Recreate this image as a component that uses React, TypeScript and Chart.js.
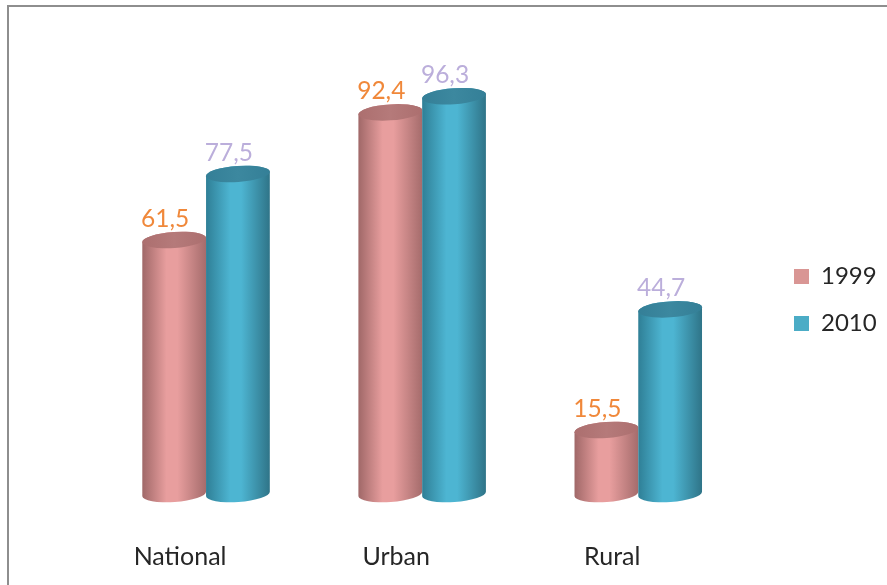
import React, { useEffect, useRef } from "react";
import { Chart, registerables } from "chart.js";

Chart.register(...registerables);

const categories = ["National", "Urban", "Rural"];
const series1999 = [61.5, 92.4, 15.5];
const series2010 = [77.5, 96.3, 44.7];
const seriesNames = ["1999", "2010"];
const labelColors = ["#F0883A", "#BBAEDB"];
const legendColors = ["#D99694", "#4BACC6"];
const FONT = "Lato, Carlito, 'Open Sans', sans-serif";

const cylinderStyles = [
  { edgeL: "#a06868", mid: "#E89E9E", edgeR: "#a56c6c", top: "#AC6F6F", topLight: "#B57A7A" },
  { edgeL: "#2f7f96", mid: "#4DB5D2", edgeR: "#2f7488", top: "#347F97", topLight: "#3C889F" },
];

const TILT = -0.07;
const RY = 8;

const cylinderPlugin = {
  id: "cylinder",
  beforeDraw(chart: any) {
    const { ctx } = chart;
    ctx.save();
    ctx.fillStyle = "#ffffff";
    ctx.fillRect(0, 0, chart.width, chart.height);
    ctx.strokeStyle = "#8E8E8E";
    ctx.lineWidth = 2;
    ctx.beginPath();
    ctx.moveTo(8, chart.height);
    ctx.lineTo(8, 6);
    ctx.lineTo(chart.width, 6);
    ctx.stroke();
    ctx.restore();
  },
  afterLayout(chart: any) {
    const l = chart.legend;
    if (l) {
      const w = l.right - l.left;
      l.left = 771;
      l.right = 771 + w;
      l.top -= 33;
      l.bottom -= 33;
    }
  },
  beforeDatasetsDraw(chart: any) {
    const { ctx } = chart;
    ctx.save();
    chart.data.datasets.forEach((_ds: any, idx: number) => {
      const st = cylinderStyles[idx];
      chart.getDatasetMeta(idx).data.forEach((bar: any) => {
        const { x, y, base, width } = bar.getProps(["x", "y", "base", "width"], true);
        const x0 = x - width / 2;
        const x1 = x + width / 2;
        const rx = width / 2 / Math.cos(TILT);
        const g = ctx.createLinearGradient(x0, 0, x1, 0);
        g.addColorStop(0, st.edgeL);
        g.addColorStop(0.38, st.mid);
        g.addColorStop(0.55, st.mid);
        g.addColorStop(1, st.edgeR);
        ctx.fillStyle = g;
        ctx.beginPath();
        ctx.ellipse(x, base, rx, RY, TILT, 0, Math.PI);
        ctx.ellipse(x, y, rx, RY, TILT, Math.PI, Math.PI * 2);
        ctx.closePath();
        ctx.fill();
        const t = ctx.createLinearGradient(x0, 0, x1, 0);
        t.addColorStop(0, st.top);
        t.addColorStop(0.5, st.topLight);
        t.addColorStop(1, st.top);
        ctx.fillStyle = t;
        ctx.beginPath();
        ctx.ellipse(x, y, rx, RY, TILT, 0, Math.PI * 2);
        ctx.fill();
      });
    });
    ctx.restore();
  },
  beforeDatasetDraw() {
    return false;
  },
  afterDraw(chart: any) {
    const { ctx } = chart;
    ctx.save();
    ctx.font = `24.5px ${FONT}`;
    ctx.textAlign = "center";
    ctx.textBaseline = "middle";
    chart.data.datasets.forEach((ds: any, i: number) => {
      chart.getDatasetMeta(i).data.forEach((bar: any, j: number) => {
        ctx.fillStyle = labelColors[i];
        ctx.fillText(String(ds.data[j]).replace(".", ","), bar.x - 9, bar.y - 21);
      });
    });
    ctx.restore();
  },
};

export default function App() {
  const ref = useRef<HTMLCanvasElement>(null);
  useEffect(() => {
    document.body.style.margin = "0";
    const chart = new Chart(ref.current as HTMLCanvasElement, {
      type: "bar",
      data: {
        labels: categories,
        datasets: [
          { label: seriesNames[0], data: series1999, backgroundColor: legendColors[0] },
          { label: seriesNames[1], data: series2010, backgroundColor: legendColors[1] },
        ],
      },
      plugins: [cylinderPlugin],
      options: {
        animation: false,
        responsive: false,
        devicePixelRatio: 1,
        layout: { padding: { left: 98, right: 25, top: 81, bottom: 0 } },
        datasets: { bar: { barPercentage: 1, categoryPercentage: 0.59 } },
        scales: {
          x: {
            grid: { display: false, drawTicks: false },
            border: { display: false },
            ticks: {
              color: "#262626",
              font: { family: FONT, size: 25 },
              padding: 48,
              labelOffset: -26,
              maxRotation: 0,
            },
            afterFit(s: any) {
              s.height = 91;
            },
          },
          y: { display: false, min: 0, max: 100 },
        },
        plugins: {
          title: { display: false },
          tooltip: { enabled: false },
          legend: {
            display: true,
            position: "right",
            labels: {
              boxWidth: 15,
              boxHeight: 15,
              padding: 23,
              color: "#262626",
              font: { family: FONT, size: 24 },
            },
          },
        },
      },
    } as any);
    return () => chart.destroy();
  }, []);
  return (
    <div style={{ position: "absolute", left: 0, top: 0, width: 887, height: 585 }}>
      <canvas ref={ref} width={887} height={585} style={{ display: "block" }} />
    </div>
  );
}
